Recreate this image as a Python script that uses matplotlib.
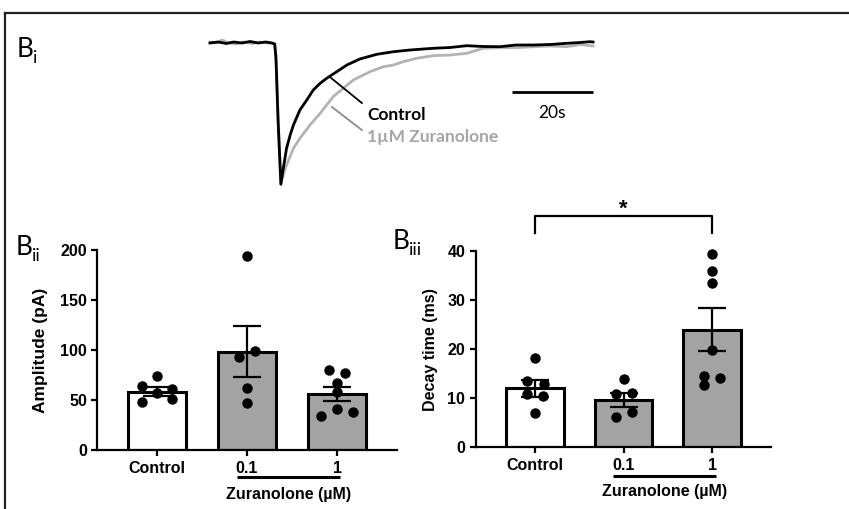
import numpy as np
import matplotlib.pyplot as plt
from matplotlib.lines import Line2D
import matplotlib.transforms as mtransforms

# -------------------- data
# example traces (time in s, current in pA, baseline = 0)
t_ctrl = [0, 2.0, 4.0, 5.9, 7.9, 9.9, 11.9, 13.8, 15.3, 16.0, 16.3, 16.8, 17.5,
          18.1, 18.9, 19.8, 20.6, 22.2, 23.9, 25.5, 27.2, 28.8, 31.3, 33.8, 37.0,
          41.2, 45.3, 49.4, 55.1, 59.3, 63.4, 67.4, 71.6, 75.6, 79.8, 84.0, 88.1,
          91.4, 93.8, 94.6]
i_ctrl = [-0.5, 0.5, -1, 0.5, -0.5, 1, -0.5, 0.5, -0.5, -1.5, -17.5, -77.5, -141.8,
          -125.8, -105.8, -92.5, -82.5, -67.5, -57.5, -47.5, -40.8, -35.8, -29.2,
          -22.5, -16.5, -11.8, -9.2, -7.5, -5.8, -5.0, -3.2, -4.0, -4.2, -2.5, -2.5,
          -2.0, -0.8, 0, 0.8, 0.5]
t_zur = [0, 1.5, 3.0, 4.4, 6.4, 8.4, 10.4, 12.3, 14.3, 15.8, 16.3, 16.8, 17.5,
         18.3, 18.9, 20.6, 22.2, 24.7, 27.2, 28.8, 30.4, 32.9, 35.4, 37.0, 39.5,
         42.8, 45.3, 47.7, 49.4, 51.0, 55.1, 59.3, 63.4, 67.5, 71.6, 75.7, 79.8,
         84.0, 88.1, 91.4, 94.6]
i_zur = [0.5, -0.5, 2.5, 0, -1.5, 0.5, -1, 0.5, -0.5, -1, -12.5, -72.5, -140.5,
         -129.5, -122.5, -105.8, -95.8, -82.5, -70.8, -62.5, -54.2, -45.8, -37.5,
         -34.2, -29.2, -24.2, -22.5, -19.2, -17.5, -15.8, -13.2, -12.5, -10.8,
         -5.8, -5.2, -5.2, -4.2, -3.5, -4.2, -2.0, -3.5]

groups = ["Control", "0.1", "1"]

amp_points = [
    [74.6, 64.6, 61.3, 57.0, 48.6, 51.3],
    [193.6, 98.7, 93.6, 62.6, 47.6],
    [79.7, 77.0, 67.0, 58.0, 34.7, 41.3, 38.7],
]
amp_jitter = [
    [0, -0.17, 0.17, 0, -0.17, 0.17],
    [0, 0.09, -0.09, 0, 0],
    [-0.09, 0.09, 0, 0, -0.18, 0, 0.18],
]
amp_mean = [58.7, 98.5, 56.0]
amp_sem = [4.8, 25.3, 7.0]

decay_points = [
    [18.2, 13.5, 12.8, 10.9, 10.5, 7.0],
    [14.0, 10.9, 11.1, 6.2, 7.2],
    [39.3, 35.9, 33.5, 19.9, 14.5, 14.1, 12.7],
]
decay_jitter = [
    [0, -0.09, 0.1, -0.09, 0.09, 0],
    [0, -0.09, 0.1, -0.09, 0.1],
    [0, 0, 0, 0, -0.09, 0.09, -0.09],
]
decay_mean = [12.0, 9.7, 24.0]
decay_sem = [1.7, 1.4, 4.4]

BAR_COLORS = ["white", "#a3a3a3", "#a3a3a3"]
TRACE_GREY = "#b3b3b3"
SANS = ["Liberation Sans", "DejaVu Sans"]

plt.rcParams.update({
    "font.family": SANS,
    "font.weight": "bold",
    "axes.linewidth": 1.6,
})

W, H = 849, 509
fig = plt.figure(figsize=(W / 100, H / 100), dpi=100)


def px_axes(x0, x1, y_top, y_bot):
    return fig.add_axes([x0 / W, 1 - y_bot / H, (x1 - x0) / W, (y_bot - y_top) / H])


# -------------------- frame (top + left line only)
fig.add_artist(Line2D([5 / W, 1], [1 - 13.3 / H, 1 - 13.3 / H], color="#222",
                      lw=1.6, transform=fig.transFigure))
fig.add_artist(Line2D([5 / W, 5 / W], [0, 1 - 13.3 / H], color="#222",
                      lw=1.6, transform=fig.transFigure))

# -------------------- Bi : example traces
axt = px_axes(200, 600, 30, 190)
axt.set_xlim(-2.47, 96.3)
axt.set_ylim(-147.5, 12.5)
axt.axis("off")
axt.plot(t_zur, i_zur, color=TRACE_GREY, lw=2.0, solid_joinstyle="round")
axt.plot(t_ctrl, i_ctrl, color="black", lw=2.0, solid_joinstyle="round")
# scale bar 20 s
axt.plot([74.6, 94.6], [-49.5, -49.5], color="black", lw=2.0, solid_capstyle="butt")
axt.text(84.4, -70.5, "20s", ha="center", va="center", fontsize=12.5,
         family="Lato", weight="normal")
# pointer lines + labels
axt.plot([29.6, 37.5], [-34.5, -60.5], color="black", lw=1.3)
axt.plot([30.1, 37.5], [-64.5, -87.5], color="#8a8a8a", lw=1.3)
axt.text(38.8, -72.5, "Control", ha="left", va="center", fontsize=12.5,
         family="Lato", weight="bold", color="black")
axt.text(38.8, -94.5, "1\u00b5M Zuranolone", ha="left", va="center", fontsize=12.5,
         family="Lato", weight="bold", color="#a6a6a6")


# -------------------- bar panels
def bar_panel(ax, means, sems, points, jitter, ylim, yticks, ylabel, lab_x, lab_size):
    x = np.arange(len(groups))
    ax.bar(x, means, width=0.65, color=BAR_COLORS, edgecolor="black",
           linewidth=2.2, zorder=2)
    ax.errorbar(x, means, yerr=sems, fmt="none", ecolor="black", elinewidth=1.6,
                capsize=10, capthick=1.6, zorder=3)
    for i, (pts, jit) in enumerate(zip(points, jitter)):
        ax.plot(i + np.array(jit), pts, "o", color="black", ms=6.5, zorder=4,
                clip_on=False)
    ax.set_ylim(*ylim)
    ax.set_yticks(yticks)
    ax.set_xticks(x)
    ax.set_xticklabels(groups)
    for s in ("top", "right"):
        ax.spines[s].set_visible(False)
    ax.tick_params(axis="both", length=4.5, width=1.6, labelsize=11.5, pad=3)
    ax.tick_params(axis="x", pad=3)
    for lab in ax.get_xticklabels() + ax.get_yticklabels():
        lab.set_fontweight("bold")
        lab.set_family(SANS)
    ax.set_ylabel(ylabel, fontweight="bold", fontsize=lab_size, family=SANS)
    ax.yaxis.set_label_coords(lab_x, 0.5)


axa = px_axes(97.3, 396.7, 250.0, 450.3)
axa.set_xlim(-0.663, 2.663)
bar_panel(axa, amp_mean, amp_sem, amp_points, amp_jitter, (0, 200),
          [0, 50, 100, 150, 200], "Amplitude (pA)", -0.165, 12.5)

axd = px_axes(475.7, 770.7, 251.0, 447.3)
axd.set_xlim(-0.673, 2.664)
bar_panel(axd, decay_mean, decay_sem, decay_points, decay_jitter, (0, 40),
          [0, 10, 20, 30, 40], "Decay time (ms)", -0.128, 11.5)


def drug_label(ax, x0, x1, y_line, y_text):
    tr = mtransforms.blended_transform_factory(ax.transData, ax.transAxes)
    ax.plot([x0, x1], [y_line, y_line], color="black", lw=2.2, transform=tr,
            clip_on=False, solid_capstyle="butt")
    ax.text((x0 + x1) / 2, y_text, "Zuranolone (\u00b5M)", transform=tr,
            ha="center", va="center", fontsize=11.5, fontweight="bold", family=SANS)


drug_label(axa, 0.886, 2.033, -0.135, -0.222)
drug_label(axd, 0.883, 2.042, -0.148, -0.225)

# significance bracket Control vs 1 uM
axd.plot([0, 0, 2, 2], [43.6, 47.1, 47.1, 43.6], color="black", lw=1.6,
         clip_on=False)
axd.text(1, 48.6, "*", ha="center", va="center", fontsize=16, fontweight="bold",
         family=SANS)

# -------------------- panel letters
def panel_label(x, y, sub):
    fig.text(x / W, 1 - y / H, "B", fontsize=19, family="Lato", weight="normal",
             ha="left", va="baseline")
    fig.text((x + 16) / W, 1 - (y + 6) / H, sub, fontsize=13, family="Lato",
             weight="normal", ha="left", va="baseline")


panel_label(17, 57, "i")
panel_label(16, 255, "ii")
panel_label(393, 249, "iii")

fig.savefig("out.png", dpi=100)
